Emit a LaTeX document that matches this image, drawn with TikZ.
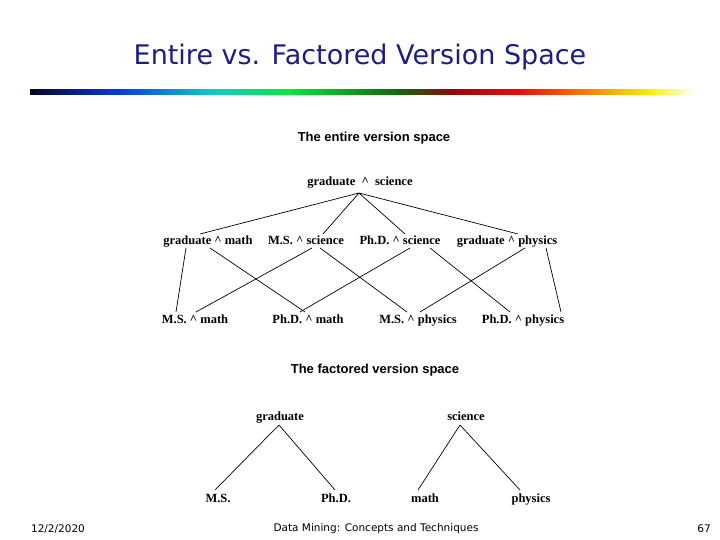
\documentclass[tikz,border=0pt]{standalone}
\usepackage{fontspec}
\setmainfont{Liberation Serif}
\newfontfamily\tah{DejaVu Sans}
\newfontfamily\hel{Liberation Sans}
\begin{document}
\begin{tikzpicture}[x=1pt,y=-1pt,
  lab/.style={font=\bfseries\fontsize{12.5}{14}\selectfont,inner sep=1pt,text height=9pt,text depth=3pt},
  hd/.style={font=\hel\bfseries\fontsize{13}{15}\selectfont,text height=9pt,text depth=3pt},
  ft/.style={font=\tah\fontsize{10.5}{12}\selectfont},
  ln/.style={line width=0.7pt}]
\useasboundingbox (0,0) rectangle (720,540);
\definecolor{tc}{RGB}{30,30,130}
\node[font=\tah\fontsize{27}{31}\selectfont,text=tc] (title) at (360,57) {Entire vs. Factored Version Space};
\definecolor{c1}{RGB}{5,5,40}\definecolor{c2}{RGB}{10,60,220}\definecolor{c3}{RGB}{20,200,200}
\definecolor{c4}{RGB}{10,230,60}\definecolor{c5}{RGB}{20,100,10}\definecolor{c6}{RGB}{140,10,10}
\definecolor{c7}{RGB}{240,10,10}\definecolor{c8}{RGB}{250,240,10}
\shade[left color=c1,right color=c2,draw=none] (30,90) rectangle (120,95);
\shade[left color=c2,right color=c3] (120,90) rectangle (210,95);
\shade[left color=c3,right color=c4] (210,90) rectangle (290,95);
\shade[left color=c4,right color=c5] (290,90) rectangle (400,95);
\shade[left color=c5,right color=c6] (400,90) rectangle (450,95);
\shade[left color=c6,right color=c7] (450,90) rectangle (520,95);
\shade[left color=c7,right color=c8] (520,90) rectangle (650,95);
\shade[left color=c8,right color=white] (650,90) rectangle (695,95);

\node[hd] (h1) at (374,139) {The entire version space};
\node[lab] (gs) at (360,183) {graduate\ \ \^{}\ \ science};
\node[lab] (gm) at (208,241) {graduate \^{} math};
\node[lab] (mss) at (306,241) {M.S. \^{} science};
\node[lab] (phs) at (400,241) {Ph.D. \^{} science};
\node[lab] (gp) at (507,241) {graduate \^{} physics};
\node[lab] (msm) at (195,320) {M.S. \^{} math};
\node[lab] (phm) at (308,320) {Ph.D. \^{} math};
\node[lab] (msp) at (418,320) {M.S. \^{} physics};
\node[lab] (php) at (523,320) {Ph.D. \^{} physics};
\coordinate (t) at (359,193);
\draw[ln] (t) -- (200,234) (t) -- (323,234) (t) -- (405,234) (t) -- (518,234);
\draw[ln] (186,248) -- (176,312);
\draw[ln] (210,248) -- (305,312);
\draw[ln] (312,248) -- (196,312);
\draw[ln] (320,248) -- (407,312);
\draw[ln] (410,248) -- (300,312);
\draw[ln] (430,248) -- (510,312);
\draw[ln] (525,248) -- (420,312);
\draw[ln] (546,248) -- (561,312);

\node[hd] (h2) at (375,370) {The factored version space};
\node[lab] (gr) at (280,417) {graduate};
\node[lab] (sc) at (466,417) {science};
\node[lab] (ms) at (218,499) {M.S.};
\node[lab] (ph) at (336,499) {Ph.D.};
\node[lab] (ma) at (425,499) {math};
\node[lab] (py) at (531,499) {physics};
\draw[ln] (279,425) -- (215,490);
\draw[ln] (279,425) -- (335,490);
\draw[ln] (460,425) -- (418,490);
\draw[ln] (460,425) -- (520,490);

\node[ft] (d) at (58,529) {12/2/2020};
\node[ft] (f) at (376,529) {Data Mining: Concepts and Techniques};
\node[ft] (p) at (704,529) {67};
\end{tikzpicture}
\end{document}
